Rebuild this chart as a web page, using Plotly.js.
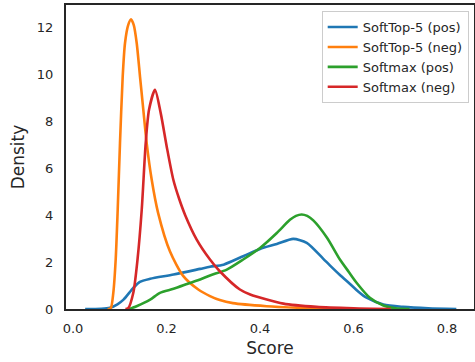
<!DOCTYPE html>
<html>
<head>
<meta charset="utf-8">
<script src="https://cdn.plot.ly/plotly-3.0.1.min.js"></script>
<style>html,body{margin:0;padding:0;background:#fff;}#chart{width:475px;height:362px;}</style>
</head>
<body>
<div id="chart"></div>
<script>
// SoftTop-5 (pos)
const st5PosX = [0.026, 0.06, 0.079, 0.095, 0.108, 0.129, 0.143, 0.165, 0.215, 0.272, 0.293, 0.322, 0.364, 0.400, 0.436, 0.471, 0.500, 0.535, 0.550, 0.571, 0.592, 0.610, 0.628, 0.664, 0.706, 0.760, 0.820];
const st5PosY = [0.0, 0.01, 0.05, 0.20, 0.40, 0.90, 1.16, 1.29, 1.47, 1.71, 1.80, 1.89, 2.25, 2.56, 2.77, 2.99, 2.82, 2.15, 1.85, 1.45, 1.08, 0.75, 0.48, 0.19, 0.09, 0.03, 0.0];
// SoftTop-5 (neg)
const st5NegX = [0.074, 0.0806, 0.0862, 0.0913, 0.0956, 0.1005, 0.1063, 0.1112, 0.118, 0.1241, 0.130, 0.1363, 0.1433, 0.1504, 0.1576, 0.168, 0.182, 0.2075, 0.236, 0.268, 0.293, 0.314, 0.342, 0.414, 0.486, 0.550, 0.600];
const st5NegY = [0.0, 0.03, 0.69, 2.11, 4.23, 7.07, 9.91, 11.33, 12.10, 12.35, 12.10, 11.33, 9.91, 8.49, 7.07, 5.55, 4.10, 2.45, 1.40, 0.83, 0.55, 0.38, 0.25, 0.12, 0.05, 0.01, 0.0];
// Softmax (pos)
const smPosX = [0.120, 0.136, 0.165, 0.186, 0.215, 0.250, 0.272, 0.293, 0.329, 0.364, 0.400, 0.436, 0.464, 0.477, 0.489, 0.501, 0.514, 0.543, 0.571, 0.590, 0.607, 0.635, 0.664, 0.690, 0.720];
const smPosY = [0.0, 0.12, 0.40, 0.69, 0.86, 1.11, 1.26, 1.43, 1.68, 2.11, 2.60, 3.24, 3.80, 3.97, 4.03, 3.97, 3.78, 3.05, 2.11, 1.58, 1.11, 0.48, 0.15, 0.03, 0.0];
// Softmax (neg)
const smNegX = [0.112, 0.118, 0.129, 0.138, 0.147, 0.1555, 0.1626, 0.1754, 0.1876, 0.2004, 0.2146, 0.227, 0.240, 0.2646, 0.293, 0.314, 0.357, 0.379, 0.450, 0.521, 0.600, 0.680];
const smNegY = [0.0, 0.03, 0.69, 2.11, 4.23, 7.07, 8.49, 9.34, 8.35, 6.93, 5.51, 4.70, 4.00, 2.96, 2.11, 1.61, 0.83, 0.62, 0.23, 0.09, 0.03, 0.0];

const names = ['SoftTop-5 (pos)', 'SoftTop-5 (neg)', 'Softmax (pos)', 'Softmax (neg)'];
const colors = ['#1f77b4', '#ff7f0e', '#2ca02c', '#d62728'];
const xs = [st5PosX, st5NegX, smPosX, smNegX];
const ys = [st5PosY, st5NegY, smPosY, smNegY];
const xTicks = [0.0, 0.2, 0.4, 0.6, 0.8];
const yTicks = [0, 2, 4, 6, 8, 10, 12];

const traces = names.map((n, i) => ({
  x: xs[i], y: ys[i], name: n, type: 'scatter', mode: 'lines',
  line: {color: colors[i], width: 2.6, shape: 'spline', smoothing: 0.7}
}));

const font = {family: 'DejaVu Sans, sans-serif', color: '#262626'};
const layout = {
  width: 475, height: 362,
  margin: {l: 66, r: 1, t: 5, b: 53},
  paper_bgcolor: '#fff', plot_bgcolor: '#fff',
  font: Object.assign({size: 13}, font),
  showlegend: true,
  legend: {x: 0.987, y: 0.98, xanchor: 'right', yanchor: 'top',
    bgcolor: '#fff', bordercolor: '#cccccc', borderwidth: 1,
    font: Object.assign({size: 13}, font)},
  xaxis: {range: [-0.015, 0.8578], tickvals: xTicks, tickformat: '.1f',
    showgrid: false, zeroline: false, showline: true, mirror: true,
    linecolor: '#262626', linewidth: 2, ticks: '', ticklabelstandoff: 6,
    tickfont: Object.assign({size: 13}, font),
    title: {text: 'Score', font: Object.assign({size: 17}, font), standoff: 8}},
  yaxis: {range: [0, 12.96], tickvals: yTicks,
    showgrid: false, zeroline: false, showline: true, mirror: true,
    linecolor: '#262626', linewidth: 2, ticks: '', ticklabelstandoff: 8,
    tickfont: Object.assign({size: 13}, font),
    title: {text: 'Density', font: Object.assign({size: 17}, font), standoff: 8}}
};
Plotly.newPlot('chart', traces, layout, {displayModeBar: false, staticPlot: true});
</script>
</body>
</html>
